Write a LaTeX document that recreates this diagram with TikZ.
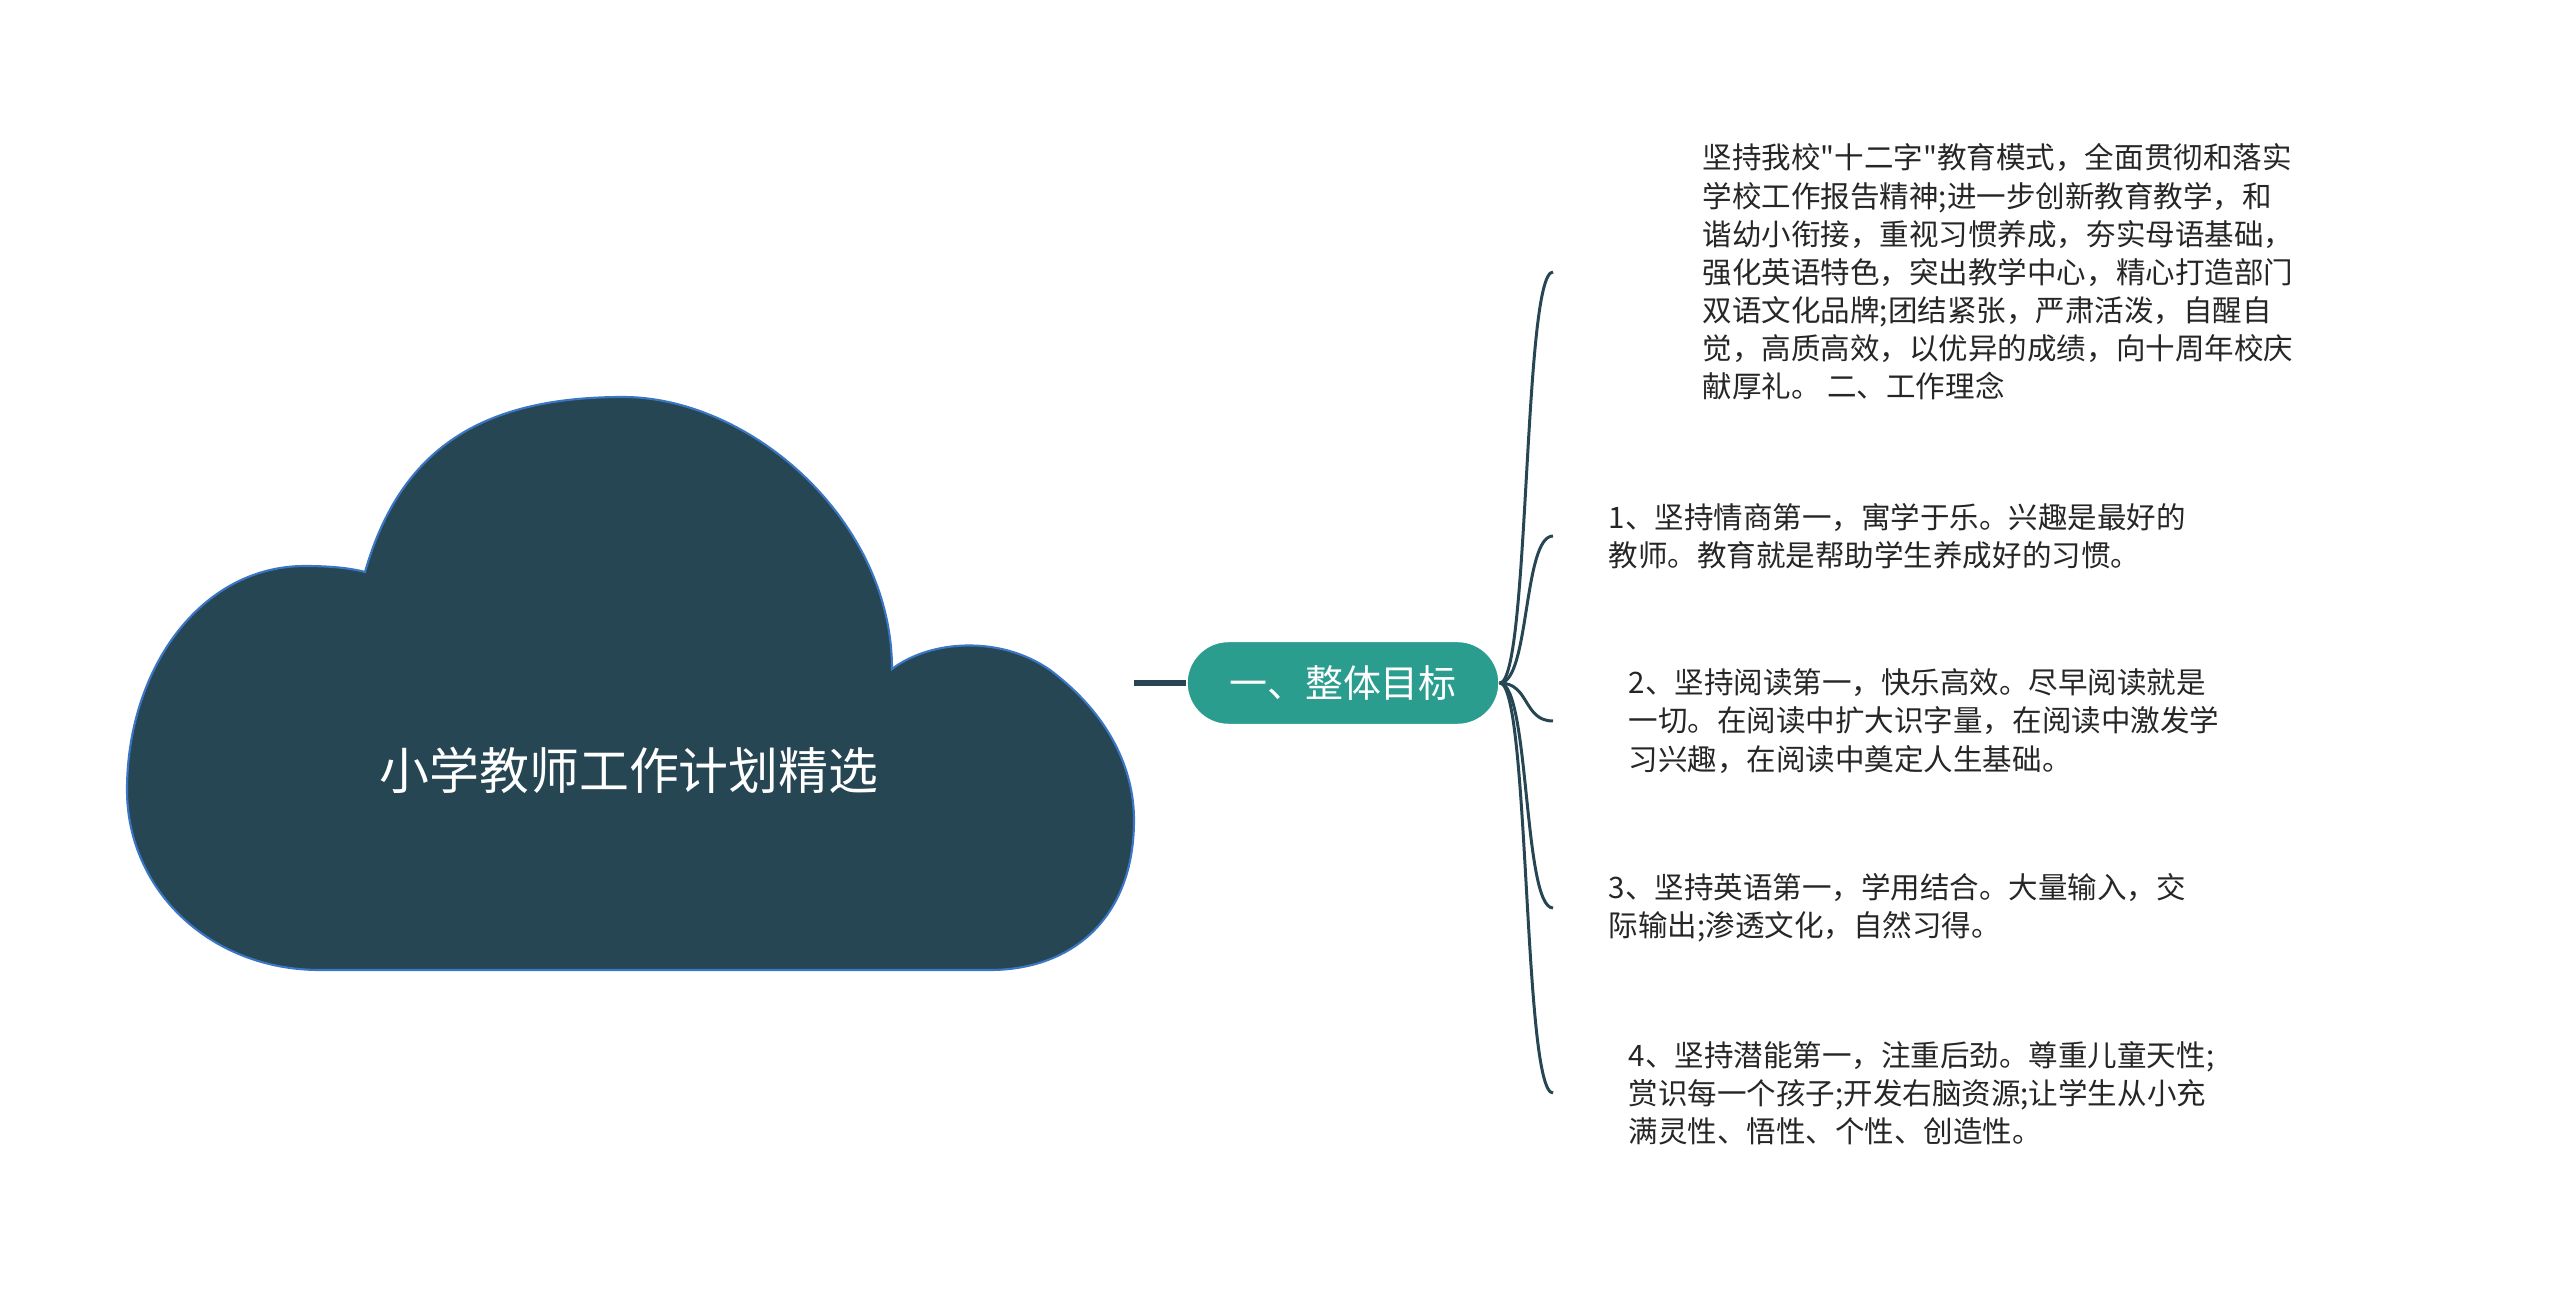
\documentclass[tikz,border=0pt]{standalone}
\usepackage{fontspec}
\newfontfamily\cjk{Noto Sans CJK SC}
\usetikzlibrary{positioning}

\definecolor{slate}{HTML}{264653}
\definecolor{topicgreen}{HTML}{2A9D8F}
\definecolor{cloudline}{HTML}{3B76C4}

\begin{document}
\begin{tikzpicture}[
    trunk/.style={draw=slate, line width=1.7pt},
    branch/.style={draw=slate, line width=0.85pt},
    topicbox/.style={fill=topicgreen, draw=white, rounded corners=4.15mm,
        minimum width=3.12cm, minimum height=0.83cm, inner sep=0pt,
        text=white, font=\cjk\fontsize{10.8pt}{13pt}\selectfont},
    leaf/.style={inner sep=0pt, align=left, text=black!85,
        font=\cjk\fontsize{8.4pt}{10.85pt}\selectfont}
]

\useasboundingbox (0,0) rectangle (25.6,-12.91);

% cloud
\draw[fill=slate, draw=cloudline, line width=0.6pt]
    (3.65,-5.72) .. controls (4.00,-4.50) and (4.80,-3.97) .. (6.23,-3.97)
    .. controls (7.50,-3.97) and (8.92,-5.20) .. (8.92,-6.69)
    .. controls (9.30,-6.40) and (10.00,-6.35) .. (10.50,-6.70)
    .. controls (11.10,-7.15) and (11.34,-7.70) .. (11.34,-8.20)
    .. controls (11.34,-9.20) and (10.70,-9.70) .. (9.90,-9.70)
    -- (3.20,-9.70)
    .. controls (2.10,-9.70) and (1.27,-8.90) .. (1.27,-7.90)
    .. controls (1.27,-6.70) and (2.00,-5.66) .. (3.05,-5.66)
    .. controls (3.30,-5.66) and (3.50,-5.68) .. (3.65,-5.72) -- cycle;

\node[text=white, font=\cjk\fontsize{14.2pt}{17pt}\selectfont] (title) at (6.29,-7.70) {小学教师工作计划精选};
\coordinate (cloudeast) at (11.34,-6.83);

\node[topicbox] (topic) at (13.43,-6.83) {一、整体目标};
\draw[trunk] (cloudeast) -- (topic);

% branch ends
\coordinate (b0) at (15.53,-2.72);
\coordinate (b1) at (15.53,-5.36);
\coordinate (b2) at (15.53,-7.21);
\coordinate (b3) at (15.53,-9.08);
\coordinate (b4) at (15.53,-10.93);

\foreach \b in {b0,b1,b2,b3,b4}
    \draw[branch] (topic.east) .. controls +(0.3,0) and +(-0.3,0) .. (\b);

\node[leaf, right=14.9mm of b0] (goal0) {坚持我校"十二字"教育模式，全面贯彻和落实\\
学校工作报告精神;进一步创新教育教学，和\\
谐幼小衔接，重视习惯养成，夯实母语基础，\\
强化英语特色，突出教学中心，精心打造部门\\
双语文化品牌;团结紧张，严肃活泼，自醒自\\
觉，高质高效，以优异的成绩，向十周年校庆\\
献厚礼。 二、工作理念};

\node[leaf, right=5.5mm of b1] (goal1) {1、坚持情商第一，寓学于乐。兴趣是最好的\\
教师。教育就是帮助学生养成好的习惯。};

\node[leaf, right=7.5mm of b2] (goal2) {2、坚持阅读第一，快乐高效。尽早阅读就是\\
一切。在阅读中扩大识字量，在阅读中激发学\\
习兴趣，在阅读中奠定人生基础。};

\node[leaf, right=5.5mm of b3] (goal3) {3、坚持英语第一，学用结合。大量输入，交\\
际输出;渗透文化，自然习得。};

\node[leaf, right=7.5mm of b4] (goal4) {4、坚持潜能第一，注重后劲。尊重儿童天性;\\
赏识每一个孩子;开发右脑资源;让学生从小充\\
满灵性、悟性、个性、创造性。};

\end{tikzpicture}
\end{document}
